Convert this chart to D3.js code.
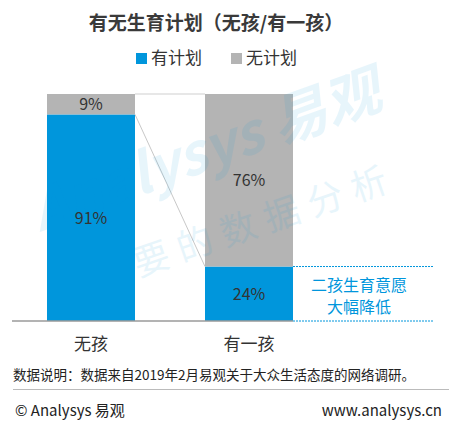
<!DOCTYPE html>
<html><head><meta charset="utf-8">
<script src="https://cdn.jsdelivr.net/npm/d3@7/dist/d3.min.js"></script>
<style>body{margin:0;background:#fff}svg{display:block}text{font-family:"Noto Sans CJK SC","Noto Sans",sans-serif}</style>
</head><body><svg id="c" width="461" height="422"></svg>
<script>
const categories = ["无孩", "有一孩"];
const seriesNames = ["有计划", "无计划"];
const planned = [91, 24];
const unplanned = [9, 76];
const colors = ["#0096dc", "#b4b4b4"];
const title = "有无生育计划（无孩/有一孩）";
const note = "数据说明：数据来自2019年2月易观关于大众生活态度的网络调研。";
const annotation = ["二孩生育意愿", "大幅降低"];

const svg = d3.select("#c");
const x = d3.scaleBand().domain(categories).range([12, 328]).paddingInner(0.443).paddingOuter(0.2215);
const y = d3.scaleLinear().domain([0, 100]).range([321, 94]);

// bars
const data = categories.map((c, i) => ({c, p: planned[i], u: unplanned[i]}));
const g = svg.append("g");
g.selectAll(".p").data(data).join("rect")
  .attr("x", d => x(d.c)).attr("width", x.bandwidth())
  .attr("y", d => y(d.p)).attr("height", d => y(0) - y(d.p)).attr("fill", colors[0]);
g.selectAll(".u").data(data).join("rect")
  .attr("x", d => x(d.c)).attr("width", x.bandwidth())
  .attr("y", d => y(d.p + d.u)).attr("height", d => y(d.p) - y(d.p + d.u)).attr("fill", colors[1]);

// connectors
const r0 = x(categories[0]) + x.bandwidth(), l1 = x(categories[1]);
svg.append("line").attr("x1", r0).attr("x2", l1).attr("y1", y(100)).attr("y2", y(100))
  .attr("stroke", "#cfcfcf").attr("stroke-width", 1);
svg.append("line").attr("x1", r0).attr("x2", l1).attr("y1", y(planned[0])).attr("y2", y(planned[1]))
  .attr("stroke", "#c8c8c8").attr("stroke-width", 1);

// watermark (on top, translucent)
const wm = svg.append("g").attr("opacity", 0.09).attr("fill", "#0096dc");
wm.append("text").attr("transform", "translate(40,232) rotate(-20)")
  .attr("font-size", 56).attr("font-weight", "bold").attr("font-style", "italic")
  .attr("font-family", "Lato, sans-serif").text("Analysys 易观");
wm.append("text").attr("transform", "translate(95,292) rotate(-19)")
  .attr("font-size", 36).attr("letter-spacing", 10).text("你要的数据分析");

// value labels
const lbl = svg.append("g").attr("font-size", 16).attr("fill", "#333").attr("text-anchor", "middle");
data.forEach(d => {
  lbl.append("text").attr("x", x(d.c) + x.bandwidth()/2).attr("y", (y(0) + y(d.p))/2 + 6).text(d.p + "%");
  lbl.append("text").attr("x", x(d.c) + x.bandwidth()/2).attr("y", (y(d.p) + y(d.p + d.u))/2 + 6).text(d.u + "%");
});

// axis
const axis = svg.append("g").attr("transform", `translate(0,${y(0)})`)
  .call(d3.axisBottom(x).tickSize(0).tickPadding(17));
axis.select(".domain").attr("stroke", "#9a9a9a").attr("stroke-width", 1.5).attr("d", `M12,0H${x(categories[1]) + x.bandwidth()}`);
axis.selectAll("text").attr("font-size", 17).attr("fill", "#333")
  .attr("font-family", '"Noto Sans CJK SC",sans-serif');

// dashed annotation lines
const r1 = x(categories[1]) + x.bandwidth();
[y(planned[1]), y(0)].forEach(yy => svg.append("line").attr("x1", r1).attr("x2", 434)
  .attr("y1", yy).attr("y2", yy).attr("stroke", colors[0]).attr("stroke-width", 1).attr("stroke-dasharray", "2,1"));
svg.append("g").attr("font-size", 16).attr("fill", colors[0]).attr("text-anchor", "middle")
  .selectAll("text").data(annotation).join("text")
  .attr("x", 359).attr("y", (d, i) => 291 + i * 22).text(d => d);

// title
svg.append("text").attr("x", 216).attr("y", 30).attr("text-anchor", "middle")
  .attr("font-size", 19).attr("font-weight", "bold").attr("fill", "#3a3a3a").text(title);

// legend
const leg = svg.append("g");
const legX = [136, 231];
seriesNames.forEach((s, i) => {
  leg.append("rect").attr("x", legX[i]).attr("y", 53).attr("width", 11).attr("height", 11).attr("fill", colors[i]);
  leg.append("text").attr("x", legX[i] + 15).attr("y", 64).attr("font-size", 17).attr("fill", "#333").text(s);
});

// footnote
svg.append("text").attr("x", 13).attr("y", 380).attr("font-size", 13.5).attr("fill", "#222").text(note);
svg.append("line").attr("x1", 13).attr("x2", 449).attr("y1", 389.5).attr("y2", 389.5).attr("stroke", "#bbb");
svg.append("text").attr("x", 15).attr("y", 416).attr("font-size", 15).attr("fill", "#222").text("© Analysys 易观");
svg.append("text").attr("x", 442).attr("y", 416).attr("text-anchor", "end").attr("font-size", 15).attr("fill", "#222").text("www.analysys.cn");
</script></body></html>
